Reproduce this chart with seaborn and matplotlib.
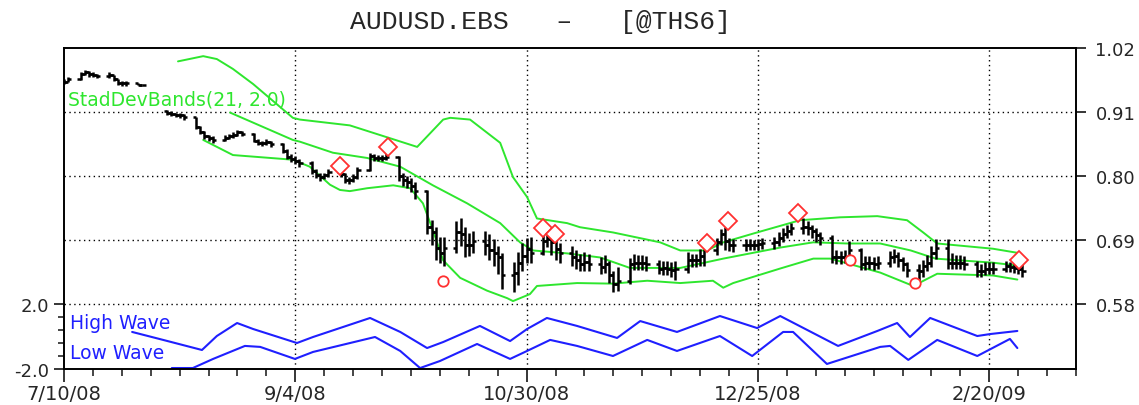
import numpy as np
import pandas as pd
import matplotlib
matplotlib.use("Agg")
import matplotlib.pyplot as plt
import seaborn as sns

# ---- data (days are counted from 7/10/08) ----
start = pd.Timestamp("2008-07-10")

# first short stretch of bars in July
july_dates = ["2008-07-10", "2008-07-11", "2008-07-14", "2008-07-15", "2008-07-16",
              "2008-07-17", "2008-07-18", "2008-07-21", "2008-07-22", "2008-07-23",
              "2008-07-24", "2008-07-25", "2008-07-28", "2008-07-29"]
july_close = [0.962, 0.966, 0.975, 0.978, 0.975, 0.974, 0.972, 0.974, 0.966, 0.960,
              0.959, 0.959, 0.957, 0.957]
july_high = [0.966, 0.970, 0.979, 0.982, 0.980, 0.978, 0.976, 0.978, 0.974, 0.966,
             0.963, 0.963, 0.957, 0.957]
july_low = [0.958, 0.961, 0.965, 0.973, 0.971, 0.970, 0.968, 0.969, 0.963, 0.956,
            0.955, 0.955, 0.956, 0.956]
july_open0 = 0.960

# main run of daily bars, 4 Aug 2008 - 27 Feb 2009 (one row per week)
main_first, main_last = "2008-08-04", "2009-02-27"
main_close = [
    0.909, 0.907, 0.905, 0.904, 0.902,
    0.884, 0.876, 0.868, 0.865, 0.862,
    0.866, 0.869, 0.871, 0.875, 0.873,
    0.861, 0.857, 0.857, 0.859, 0.855,
    0.843, 0.833, 0.830, 0.826, 0.823,
    0.809, 0.802, 0.798, 0.802, 0.807,
    0.803, 0.793, 0.793, 0.798, 0.810,
    0.835, 0.831, 0.831, 0.831, 0.833,
    0.800, 0.793, 0.790, 0.783, 0.774,
    0.712, 0.703, 0.677, 0.667, 0.677,
    0.703, 0.701, 0.681, 0.681, 0.689,
    0.682, 0.672, 0.667, 0.661, 0.629,
    0.634, 0.651, 0.663, 0.675, 0.668,
    0.689, 0.692, 0.686, 0.675, 0.667,
    0.660, 0.655, 0.649, 0.653, 0.649,
    0.644, 0.648, 0.629, 0.615, 0.620,
    0.649, 0.651, 0.651, 0.651, 0.648,
    0.641, 0.642, 0.641, 0.639, 0.641,
    0.655, 0.655, 0.655, 0.663, 0.672,
    0.687, 0.701, 0.689, 0.681, 0.681,
    0.681, 0.681, 0.681, 0.683, 0.684,
    0.687, 0.694, 0.701, 0.705, 0.710,
    0.713, 0.710, 0.705, 0.698, 0.694,
    0.661, 0.660, 0.660, 0.661, 0.672,
    0.649, 0.651, 0.651, 0.649, 0.651,
    0.661, 0.663, 0.655, 0.648, 0.639,
    0.637, 0.646, 0.651, 0.668, 0.677,
    0.651, 0.651, 0.651, 0.651, 0.649,
    0.636, 0.637, 0.641, 0.641, 0.641,
    0.646, 0.644, 0.642, 0.641, 0.637,
]
main_high = [
    0.913, 0.911, 0.909, 0.908, 0.906,
    0.902, 0.886, 0.878, 0.870, 0.868,
    0.870, 0.873, 0.875, 0.879, 0.878,
    0.874, 0.863, 0.861, 0.863, 0.861,
    0.857, 0.846, 0.837, 0.834, 0.830,
    0.825, 0.812, 0.806, 0.806, 0.812,
    0.810, 0.806, 0.799, 0.803, 0.815,
    0.840, 0.838, 0.836, 0.836, 0.840,
    0.834, 0.806, 0.800, 0.796, 0.790,
    0.776, 0.725, 0.712, 0.695, 0.695,
    0.722, 0.728, 0.712, 0.702, 0.705,
    0.705, 0.700, 0.692, 0.680, 0.668,
    0.652, 0.670, 0.684, 0.694, 0.695,
    0.701, 0.698, 0.690, 0.690, 0.684,
    0.679, 0.672, 0.666, 0.669, 0.666,
    0.660, 0.664, 0.654, 0.636, 0.644,
    0.659, 0.666, 0.664, 0.664, 0.662,
    0.656, 0.654, 0.654, 0.652, 0.654,
    0.669, 0.666, 0.666, 0.674, 0.675,
    0.694, 0.709, 0.713, 0.694, 0.692,
    0.692, 0.691, 0.690, 0.692, 0.694,
    0.696, 0.704, 0.710, 0.716, 0.720,
    0.727, 0.722, 0.716, 0.710, 0.704,
    0.698, 0.672, 0.671, 0.672, 0.688,
    0.676, 0.662, 0.662, 0.660, 0.662,
    0.671, 0.674, 0.670, 0.660, 0.652,
    0.648, 0.656, 0.664, 0.679, 0.692,
    0.692, 0.668, 0.664, 0.664, 0.662,
    0.654, 0.648, 0.652, 0.652, 0.652,
    0.654, 0.652, 0.654, 0.646, 0.650,
]
main_low = [
    0.905, 0.903, 0.901, 0.899, 0.896,
    0.880, 0.872, 0.863, 0.860, 0.857,
    0.860, 0.864, 0.866, 0.868, 0.868,
    0.858, 0.853, 0.852, 0.854, 0.850,
    0.840, 0.829, 0.824, 0.820, 0.816,
    0.804, 0.797, 0.792, 0.794, 0.799,
    0.798, 0.788, 0.786, 0.790, 0.795,
    0.808, 0.826, 0.826, 0.826, 0.828,
    0.792, 0.782, 0.779, 0.772, 0.760,
    0.700, 0.682, 0.655, 0.650, 0.645,
    0.668, 0.680, 0.660, 0.662, 0.668,
    0.665, 0.655, 0.645, 0.632, 0.605,
    0.600, 0.612, 0.636, 0.650, 0.650,
    0.665, 0.678, 0.664, 0.656, 0.651,
    0.646, 0.641, 0.636, 0.637, 0.636,
    0.632, 0.634, 0.616, 0.601, 0.602,
    0.614, 0.638, 0.639, 0.638, 0.636,
    0.631, 0.630, 0.630, 0.626, 0.622,
    0.634, 0.644, 0.644, 0.646, 0.646,
    0.664, 0.681, 0.672, 0.671, 0.670,
    0.671, 0.672, 0.672, 0.673, 0.674,
    0.674, 0.680, 0.686, 0.693, 0.698,
    0.701, 0.698, 0.693, 0.686, 0.681,
    0.651, 0.649, 0.648, 0.650, 0.657,
    0.638, 0.639, 0.640, 0.638, 0.640,
    0.644, 0.651, 0.644, 0.636, 0.626,
    0.620, 0.626, 0.636, 0.644, 0.658,
    0.641, 0.641, 0.640, 0.641, 0.639,
    0.627, 0.627, 0.630, 0.631, 0.631,
    0.635, 0.635, 0.633, 0.631, 0.627,
]
main_open0 = 0.911

# StadDevBands(21, 2.0)
upper_day = [27.6, 33.7, 37.0, 40.9, 45.8, 55.4, 57.1, 69.2, 85.5, 91.8, 93.5, 98.3,
             105.6, 108.7, 112.1, 114.5, 121.8, 124.9, 132.9, 144.3, 149.2, 155.7,
             159.6, 167.8, 178.2, 187.9, 196.9, 204.1, 208.0, 211.4, 224.9, 230.8]
upper_val = [0.997, 1.006, 1.001, 0.984, 0.958, 0.900, 0.897, 0.887, 0.850, 0.897, 0.900,
             0.897, 0.857, 0.798, 0.764, 0.727, 0.719, 0.712, 0.703, 0.686, 0.672, 0.672,
             0.686, 0.703, 0.724, 0.729, 0.731, 0.724, 0.703, 0.684, 0.675, 0.668]
mid_day = [40.2, 55.4, 57.1, 65.1, 73.4, 81.4, 89.3, 97.6, 105.6, 110.4, 113.6, 121.8,
           129.8, 137.0, 149.2, 159.6, 173.4, 181.4, 189.6, 197.6, 205.0, 211.0,
           224.9, 230.8]
mid_val = [0.909, 0.862, 0.859, 0.840, 0.831, 0.816, 0.784, 0.753, 0.719, 0.686, 0.672,
           0.667, 0.660, 0.642, 0.642, 0.658, 0.677, 0.686, 0.684, 0.684, 0.672, 0.658,
           0.651, 0.646]
lower_day = [33.7, 40.9, 55.4, 59.5, 64.4, 66.8, 69.2, 73.4, 79.7, 83.8, 86.9, 89.3,
             91.8, 95.9, 102.4, 107.3, 108.7, 112.8, 114.5, 124.2, 132.9, 141.2, 149.2,
             157.1, 159.6, 162.0, 173.4, 181.4, 185.5, 197.6, 205.6, 211.4, 224.9, 230.8]
lower_val = [0.862, 0.836, 0.828, 0.816, 0.785, 0.776, 0.774, 0.779, 0.784, 0.779, 0.753,
             0.707, 0.655, 0.625, 0.603, 0.590, 0.585, 0.597, 0.611, 0.616, 0.615, 0.620,
             0.616, 0.620, 0.608, 0.616, 0.641, 0.658, 0.658, 0.634, 0.611, 0.632, 0.629,
             0.622]

# signal markers
diamond_day = [66.8, 78.5, 116.0, 118.9, 155.7, 160.8, 177.7, 231.2]
diamond_val = [0.817, 0.849, 0.710, 0.701, 0.684, 0.722, 0.736, 0.655]
circle_day = [91.8, 190.3, 206.0]
circle_val = [0.620, 0.655, 0.616]

# High Wave / Low Wave
high_day = [16.5, 24.0, 33.4, 37.0, 41.9, 45.8, 56.4, 60.3, 74.1, 81.4, 87.9, 91.8,
            100.7, 108.0, 112.1, 116.9, 124.2, 133.9, 139.5, 148.4, 158.8, 167.8,
            173.4, 187.4, 196.9, 201.7, 204.8, 209.7, 221.1, 224.2, 230.8]
high_val = [0.28, -0.21, -0.83, 0.03, 0.83, 0.46, -0.40, -0.03, 1.14, 0.28, -0.71, -0.34,
            0.65, -0.28, 0.46, 1.14, 0.65, -0.09, 0.95, 0.28, 1.26, 0.52, 1.26, -0.58,
            0.34, 0.83, -0.03, 1.14, 0.03, 0.15, 0.34]
low_day = [26.1, 31.2, 36.1, 43.8, 47.5, 55.9, 60.3, 75.3, 81.4, 86.2, 91.0, 100.0,
           108.0, 112.1, 117.7, 124.2, 132.9, 141.2, 148.4, 158.8, 166.6, 174.1, 176.5,
           184.7, 197.6, 200.0, 204.4, 211.4, 221.1, 229.0, 230.8]
low_val = [-1.94, -1.94, -1.38, -0.58, -0.64, -1.38, -0.95, -0.03, -0.89, -1.94, -1.51,
           -0.46, -1.38, -0.89, -0.21, -0.58, -1.20, -0.21, -0.89, 0.03, -1.20, 0.28, 0.28,
           -1.69, -0.64, -0.58, -1.44, -0.21, -1.20, -0.15, -0.71]

major_days = [0, 56, 112, 168, 224]
major_labels = ["7/10/08", "9/4/08", "10/30/08", "12/25/08", "2/20/09"]
price_ticks = [0.58, 0.69, 0.80, 0.91, 1.02]

# ---- build bar table ----
def bar_frame(dates, close, high, low, open0):
    d = pd.DataFrame({"date": pd.to_datetime(dates), "close": close,
                      "high": high, "low": low})
    d["open"] = d["close"].shift(1).fillna(open0)
    d["high"] = d[["high", "open", "close"]].max(axis=1)
    d["low"] = d[["low", "open", "close"]].min(axis=1)
    d["day"] = (d["date"] - start).dt.days
    return d

bars = pd.concat([
    bar_frame(july_dates, july_close, july_high, july_low, july_open0),
    bar_frame(pd.bdate_range(main_first, main_last), main_close, main_high, main_low, main_open0),
], ignore_index=True)

# ---- figure ----
sns.set_style("white")
plt.rcParams["font.family"] = ["DejaVu Sans"]

GREEN = "#2ee62e"
BLUE = "#1f1fff"
RED = "#ff3030"
W, H = 1139, 406
fig = plt.figure(figsize=(W / 100, H / 100), dpi=100)
ax = fig.add_axes([64 / W, (H - 305) / H, 1012 / W, 256 / H])
ax2 = fig.add_axes([64 / W, (H - 370) / H, 1012 / W, 65 / H], sharex=ax)

grid_kw = dict(color="black", lw=1.0, ls=(0, (1, 2.5)), zorder=0)

# price panel
for v in price_ticks[:-1]:
    ax.axhline(v, **grid_kw)
for dd in major_days[1:]:
    ax.axvline(dd, **grid_kw)

bar_kw = dict(color="black", lw=1.8, zorder=3)
ax.vlines(bars["day"], bars["low"], bars["high"], **bar_kw)
ax.hlines(bars["open"], bars["day"] - 0.8, bars["day"], **bar_kw)
ax.hlines(bars["close"], bars["day"], bars["day"] + 0.8, **bar_kw)

for xs, ys in [(upper_day, upper_val), (mid_day, mid_val), (lower_day, lower_val)]:
    sns.lineplot(x=xs, y=ys, ax=ax, color=GREEN, lw=1.4, estimator=None, sort=False, zorder=2)

ax.plot(diamond_day, diamond_val, "D", ms=9, mfc="white", mec=RED, mew=1.3, zorder=4)
ax.plot(circle_day, circle_val, "o", ms=7.5, mfc="white", mec=RED, mew=1.3, zorder=4)

ax.text(0.004, 0.80, "StadDevBands(21, 2.0)", transform=ax.transAxes, color=GREEN,
        fontsize=13.5, va="center", ha="left")

ax.set_xlim(0, 245)
ax.set_ylim(0.58, 1.02)
ax.yaxis.tick_right()
ax.set_yticks(price_ticks)
ax.set_yticklabels([f"{v:.2f}" for v in price_ticks])
ax.tick_params(axis="y", direction="out", length=7, width=1.3, labelsize=13, pad=7,
               left=False, right=True)
ax.tick_params(axis="x", bottom=False, labelbottom=False)
ax.spines["bottom"].set_visible(False)
for s in ["top", "left", "right"]:
    ax.spines[s].set_linewidth(1.4)
    ax.spines[s].set_color("black")

# wave panel
ax2.axhline(2.0, **grid_kw)
for dd in major_days[1:]:
    ax2.axvline(dd, **grid_kw)
sns.lineplot(x=high_day, y=high_val, ax=ax2, color=BLUE, lw=1.5, estimator=None, sort=False)
sns.lineplot(x=low_day, y=low_val, ax=ax2, color=BLUE, lw=1.5, estimator=None, sort=False)
ax2.text(0.006, 0.72, "High Wave", transform=ax2.transAxes, color=BLUE, fontsize=13.5,
         va="center", ha="left")
ax2.text(0.006, 0.25, "Low Wave", transform=ax2.transAxes, color=BLUE, fontsize=13.5,
         va="center", ha="left")

ax2.set_ylim(-2.0, 2.0)
ax2.set_yticks([-2.0, 2.0])
ax2.set_yticklabels(["-2.0", "2.0"])
ax2.set_yticks([-1.2, -0.4, 0.4, 1.2], minor=True)
ax2.set_xticks(major_days)
ax2.set_xticklabels(major_labels)
ax2.set_xticks(np.arange(0, 246, 7), minor=True)
ax2.tick_params(axis="y", which="major", direction="out", length=7, width=1.3,
                labelsize=13, left=True, right=False)
ax2.tick_params(axis="y", which="minor", direction="out", length=4, width=1.2,
                left=True, right=False)
ax2.tick_params(axis="x", which="major", direction="out", length=9, width=1.3,
                labelsize=14, pad=2, bottom=True)
ax2.tick_params(axis="x", which="minor", direction="out", length=5, width=1.2, bottom=True)
ax2.spines["top"].set_visible(False)
for s in ["bottom", "left", "right"]:
    ax2.spines[s].set_linewidth(1.4)
    ax2.spines[s].set_color("black")
ax2.set_xlabel("")
ax2.set_ylabel("")
ax.set_xlabel("")
ax.set_ylabel("")

fig.text(540 / W, 1 - 22 / H, "AUDUSD.EBS   \u2013   [@THS6]", family="Liberation Mono",
         fontsize=19, ha="center", va="center")

fig.savefig("out.png", dpi=100)
